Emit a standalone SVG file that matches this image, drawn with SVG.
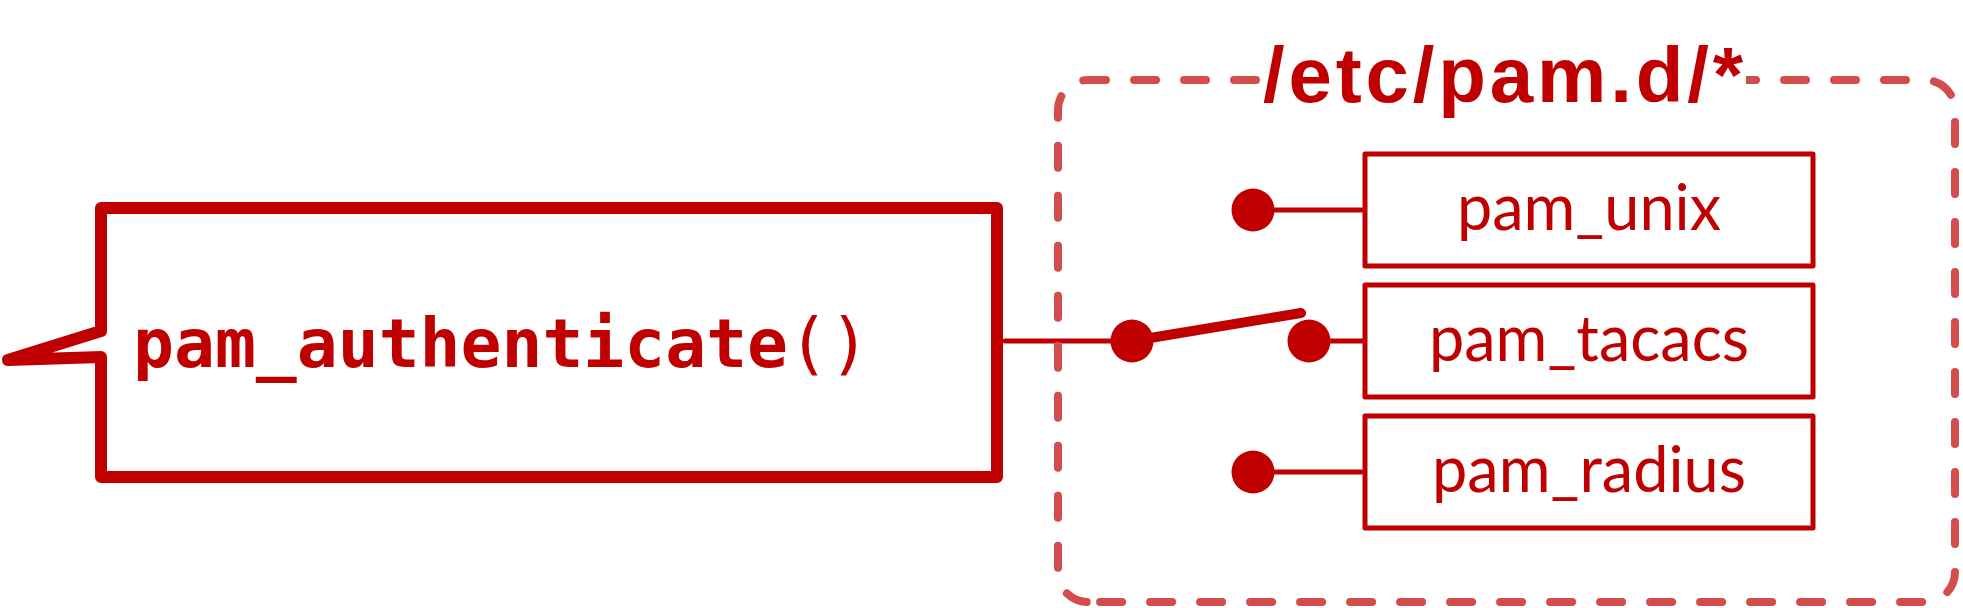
<svg xmlns="http://www.w3.org/2000/svg" width="1963" height="608" viewBox="0 0 1963 608">
<style>
.main{fill:none;stroke:#C00000;stroke-width:12;stroke-linejoin:round;stroke-linecap:round}
.box{fill:#fff;stroke:#C00000;stroke-width:5;stroke-linejoin:round}
.wire{stroke:#C00000;stroke-width:5;stroke-linecap:round;fill:none}
.dot{fill:#C00000}
.dash{fill:none;stroke:#D34D4D;stroke-width:8;stroke-linecap:round;stroke-dasharray:22 28}
.mono{font-family:"DejaVu Sans Mono","Liberation Mono",monospace;font-weight:bold;font-size:68px;fill:#C00000}
.thin{font-weight:normal}
.mod{font-family:Lato,"Open Sans","Liberation Sans",sans-serif;font-size:63px;fill:#C00000;text-anchor:middle}
.title{font-family:"Liberation Sans",Arial,sans-serif;font-weight:bold;font-size:78px;fill:#C00000}
</style>
<g id="pam_authenticate">
<path class="main" d="M101,208 H997 V477 H101 V357 L8,360 L101,331 Z"/>
<text class="mono" x="133" y="367">pam_authenticate<tspan class="thin">()</tspan></text>
</g>
<g id="connectors">
<line class="wire" x1="1005" y1="341" x2="1132" y2="341"/>
<line x1="1132" y1="341" x2="1301" y2="313" stroke="#C00000" stroke-width="10" stroke-linecap="round"/>
<line class="wire" x1="1309" y1="341" x2="1365" y2="341"/>
<line class="wire" x1="1253" y1="210" x2="1365" y2="210"/>
<line class="wire" x1="1253" y1="472" x2="1365" y2="472"/>
<circle class="dot" cx="1132" cy="341" r="21.5"/>
<circle class="dot" cx="1309" cy="341" r="21.5"/>
<circle class="dot" cx="1253" cy="210" r="21.5"/>
<circle class="dot" cx="1253" cy="472" r="21.5"/>
</g>
<g id="pam_d">
<path class="dash" stroke-dashoffset="4" d="M1088,80 H1925 A30,30 0 0 1 1955,110 V572 A30,30 0 0 1 1925,602 H1088"/>
<path class="dash" stroke-dashoffset="17.2" d="M1088,80 A30,30 0 0 0 1058,110 V572 A30,30 0 0 0 1088,602"/>
<rect x="1262" y="40" width="484" height="80" fill="#fff"/>
<text class="title" x="1263" y="102" textLength="480" lengthAdjust="spacing">/etc/pam.d/*</text>
</g>
<g id="pam_unix">
<rect class="box" x="1365" y="154" width="448" height="112"/>
<text class="mod" x="1589" y="230">pam_unix</text>
</g>
<g id="pam_tacacs">
<rect class="box" x="1365" y="285" width="448" height="112"/>
<text class="mod" x="1589" y="361">pam_tacacs</text>
</g>
<g id="pam_radius">
<rect class="box" x="1365" y="416" width="448" height="112"/>
<text class="mod" x="1589" y="492">pam_radius</text>
</g>
</svg>
